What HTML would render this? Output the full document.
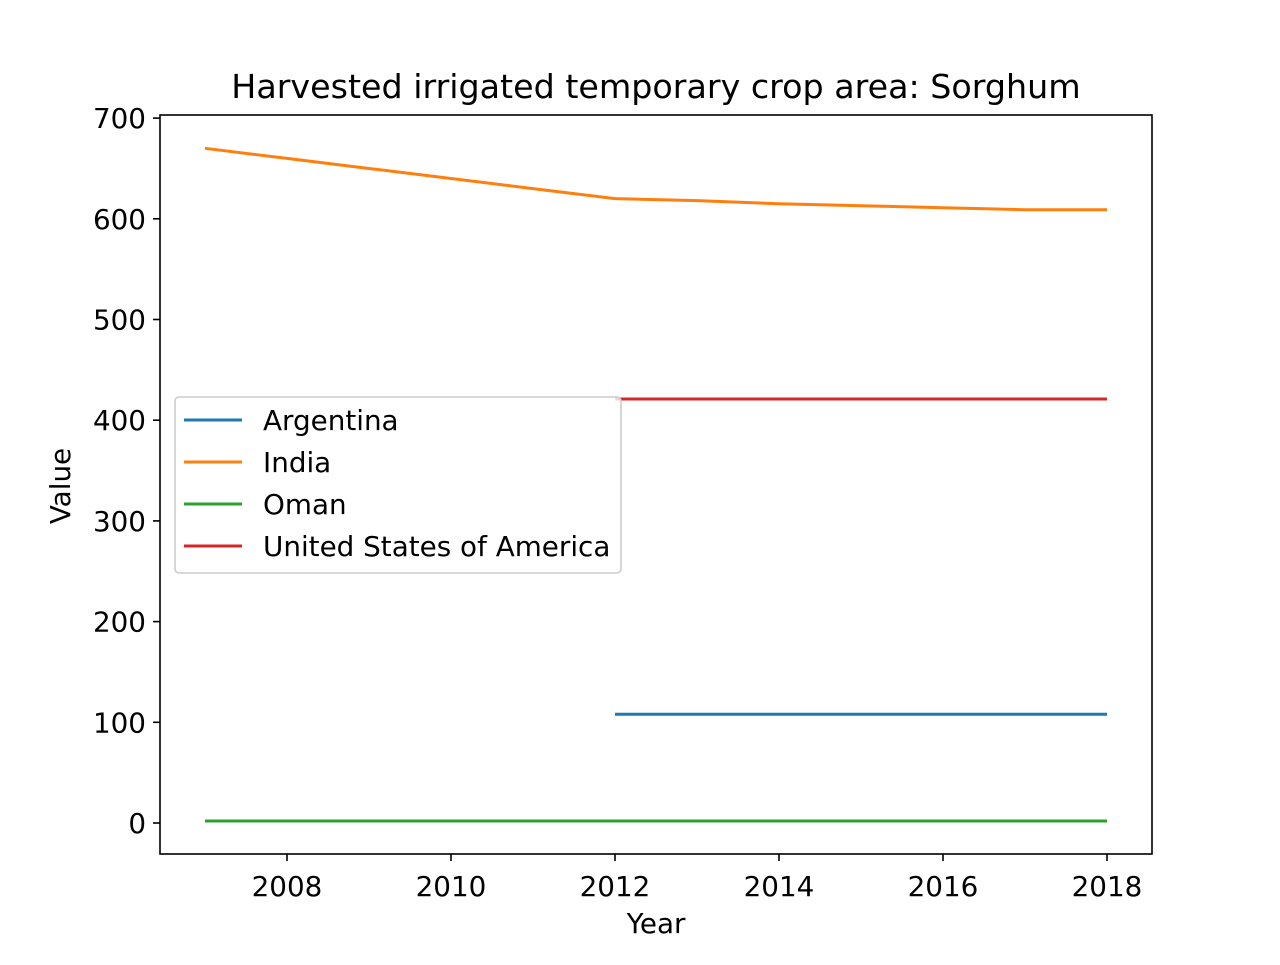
<!DOCTYPE html>
<html><head><meta charset="utf-8"><style>
body{margin:0;background:#fff}
svg text{font-family:"DejaVu Sans","Liberation Sans",sans-serif;fill:#000}
</style></head><body>
<svg id="chart" width="1280" height="960" xmlns="http://www.w3.org/2000/svg">
<rect width="1280" height="960" fill="#fff"/>
<text x="656" y="98" font-size="33.3" text-anchor="middle">Harvested irrigated temporary crop area: Sorghum</text>
<g id="series"></g>
<rect x="160" y="115" width="992" height="739" fill="none" stroke="#000" stroke-width="1.6"/>
<g id="xticks"></g><g id="yticks"></g>
<text x="656" y="933" font-size="27.8" text-anchor="middle">Year</text>
<text transform="translate(70,486) rotate(-90)" font-size="27.8" text-anchor="middle">Value</text>
<g id="legend"></g>
</svg>
<script>
const years=[2007,2008,2009,2010,2011,2012,2013,2014,2015,2016,2017,2018];
const argentina=[null,null,null,null,null,108,108,108,108,108,108,108];
const india=[670,660,650,640,630,620,618,615,613,611,609,609];
const oman=[2,2,2,2,2,2,2,2,2,2,2,2];
const usa=[null,null,null,null,null,421,421,421,421,421,421,421];
const seriesNames=["Argentina","India","Oman","United States of America"];
const colors=["#1f77b4","#ff7f0e","#2ca02c","#d62728"];
const xTicks=[2008,2010,2012,2014,2016,2018];
const yTicks=[0,100,200,300,400,500,600,700];
const NS="http://www.w3.org/2000/svg";
const x=v=>287+(v-2008)*82;
const y=v=>823-v*1.007;
function mk(t,a,p){const e=document.createElementNS(NS,t);for(const k in a)e.setAttribute(k,a[k]);p.appendChild(e);return e;}
const sg=document.getElementById('series');
[argentina,india,oman,usa].forEach((s,i)=>{
  let d="";s.forEach((v,j)=>{if(v==null)return;d+=(d?"L":"M")+x(years[j])+","+y(v);});
  const p=mk('path',{d:d,fill:"none",stroke:colors[i],"stroke-width":3},sg);
  
  
});
const xg=document.getElementById('xticks');
xTicks.forEach(t=>{
  const l=mk('line',{x1:x(t),x2:x(t),y1:854,y2:861,stroke:"#000","stroke-width":1.6},xg);
  
  
  const tx=mk('text',{x:x(t),y:896,"font-size":27.8,"text-anchor":"middle"},xg);tx.textContent=t;
  
  
});
const yg=document.getElementById('yticks');
yTicks.forEach(t=>{
  const l=mk('line',{x1:153,x2:160,y1:y(t),y2:y(t),stroke:"#000","stroke-width":1.6},yg);
  
  
  const tx=mk('text',{x:146,y:y(t)+10,"font-size":27.8,"text-anchor":"end"},yg);tx.textContent=t;
  
  
});
const lg=document.getElementById('legend');
const box=mk('rect',{x:175,y:397,width:446,height:176,rx:4,fill:"#fff","fill-opacity":0.8,stroke:"#ccc","stroke-width":1.6},lg);


seriesNames.forEach((n,i)=>{
  const yy=420+i*42;
  const l=mk('line',{x1:184,x2:242,y1:yy,y2:yy,stroke:colors[i],"stroke-width":3},lg);
  
  
  const t=mk('text',{x:263,y:yy+10,"font-size":27.8},lg);t.textContent=n;
  
  
});
</script>
</body></html>
